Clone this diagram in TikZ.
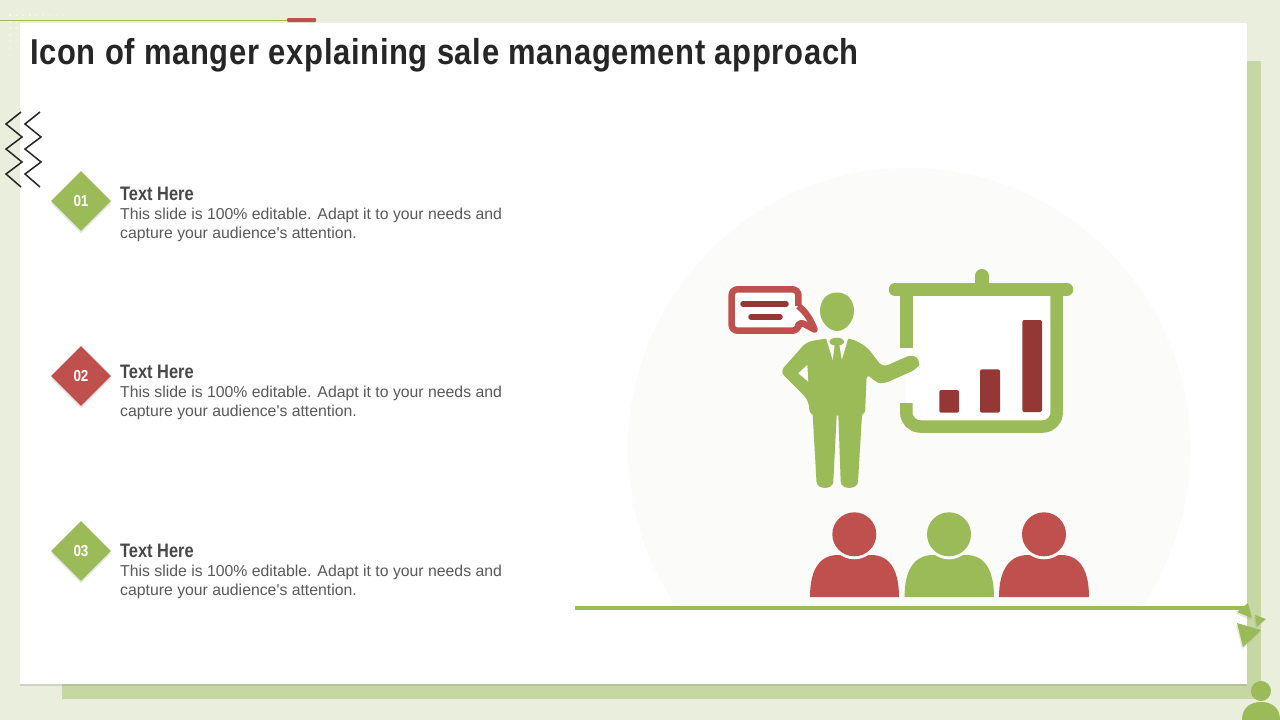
\documentclass[tikz,border=0pt]{standalone}
\usepackage{xcolor}
\usepackage{fontspec}
\usepackage{tikz}
\usetikzlibrary{shapes.geometric,shadows}
\setmainfont{Liberation Sans}
\newfontfamily\narrowfont[FakeStretch=0.84]{Liberation Sans}
\newfontfamily\slidefont[FakeStretch=0.86, LetterSpace=1.85]{Liberation Sans}
\definecolor{mygreen}{HTML}{9BBB59}
\definecolor{myred}{HTML}{C0504D}
\definecolor{mydarkred}{HTML}{953735}
\definecolor{mypage}{HTML}{E9EFDC}
\definecolor{mypanel}{HTML}{C6D7A4}
\definecolor{mydisc}{HTML}{FBFBF9}
\tikzstyle{mydiamond} = [diamond, minimum width=60pt, minimum height=60pt, inner sep=0pt, text=white, font=\narrowfont\fontsize{16}{16}\selectfont\bfseries, drop shadow={shadow xshift=0pt, shadow yshift=-2.5pt, opacity=.2}]
\tikzstyle{myhead} = [draw=none, fill=#1, text width=0pt, circle, minimum size=44pt, inner sep=0pt]
\tikzstyle{myitem} = [anchor=north west, inner sep=0pt, text width=383pt, align=justify, text=black!65, font=\fontsize{15.8}{19.4}\selectfont]
\tikzstyle{mytitle} = [anchor=west, inner sep=0pt, text=black!72, font=\narrowfont\fontsize{19.5}{20}\selectfont\bfseries]
\tikzstyle{mybar} = [fill=mydarkred, rounded corners=2pt]
\tikzstyle{myzigzag} = [draw=black!85, line width=1.5pt]
\begin{document}
\begin{tikzpicture}[x=1pt, y=-1pt]
\useasboundingbox (0,0) rectangle (1280,720);
% page and panels
\fill [mypage] (0,0) rectangle (1280,720);
\fill [mypanel] (62,61) rectangle (1261,699);
\foreach \i in {0,...,10} {
    \fill [white, opacity=.7-.06*\i] (10+6.6*\i,15) circle (1.2);
}
\foreach \i in {1,...,7} {
    \fill [white, opacity=.7-.08*\i] (10,15+6.6*\i) circle (1.2);
    \fill [white, opacity=.6-.08*\i] (16.6,15+6.6*\i) circle (1.2);
}
\fill [white, drop shadow={shadow xshift=0pt, shadow yshift=-2pt, opacity=.25}] (20,23) rectangle (1247,684);
\draw [mygreen, line width=1pt] (0,20.5) -- (287,20.5);
\fill [myred, rounded corners=1pt] (287,18) rectangle (316,22);
\node [anchor=west, inner sep=0pt, text=black!85, font=\slidefont\fontsize{36}{36}\selectfont\bfseries] (title) at (30,55.5) {Icon of manger explaining sale management approach};
% zigzags
\draw [myzigzag] (21,112) -- (6,124) -- (22,137) -- (6,149) -- (22,162) -- (6,174) -- (21,187);
\draw [myzigzag] (40,112) -- (25,124) -- (41,137) -- (25,149) -- (41,162) -- (25,174) -- (40,187);
% left column
\node [mydiamond, fill=mygreen] (num1) at (81,201) {01};
\node [mytitle] (head1) at (120,194) {Text Here};
\node [myitem] (text1) at (120,207.5) {This slide is 100\% editable. Adapt it to your needs and\\capture your audience\textquotesingle s attention.};
\node [mydiamond, fill=myred] (num2) at (81,376) {02};
\node [mytitle] (head2) at (120,372) {Text Here};
\node [myitem] (text2) at (120,385.5) {This slide is 100\% editable. Adapt it to your needs and\\capture your audience\textquotesingle s attention.};
\node [mydiamond, fill=mygreen] (num3) at (81,551) {03};
\node [mytitle] (head3) at (120,551) {Text Here};
\node [myitem] (text3) at (120,564.5) {This slide is 100\% editable. Adapt it to your needs and\\capture your audience\textquotesingle s attention.};
% disc behind the icon
\begin{scope}
\clip (600,150) rectangle (1220,606);
\fill [mydisc] (909,449) circle (281);
\end{scope}
\draw [mygreen, line width=4pt] (575,607.5) -- (1247,607.5);
% corner marks
\fill [mygreen, drop shadow={shadow xshift=-1pt, shadow yshift=-2pt, opacity=.2}] (1237,612) -- (1248,603) -- (1252,618) -- cycle;
\fill [mygreen, drop shadow={shadow xshift=-1pt, shadow yshift=-2pt, opacity=.2}] (1255,615) -- (1266,619) -- (1257,626) -- cycle;
\fill [mygreen, drop shadow={shadow xshift=-1pt, shadow yshift=-2pt, opacity=.2}] (1237,623) -- (1261,630) -- (1243,647) -- cycle;
\fill [mygreen] (1261,691) circle (10);
\fill [mygreen] (1242,720) .. controls (1242,708) and (1250,702) .. (1261,702) .. controls (1272,702) and (1280,708) .. (1280,720) -- cycle;
% board
\fill [white] (906,295) rectangle (1057,426);
\draw [mygreen, line width=14pt, line cap=round] (981.7,276) -- (981.7,289);
\draw [mygreen, line width=12.5pt, line cap=round] (895,289.5) -- (1067,289.5);
\draw [mygreen, line width=12.5pt] (906.3,295) -- (906.3,348);
\draw [mygreen, line width=12.5pt, rounded corners=14pt] (906.3,403) -- (906.3,426.5) -- (1056.7,426.5) -- (1056.7,290);
\fill [mybar] (939.3,390) rectangle (959,412.7);
\fill [mybar] (980,369.3) rectangle (1000,412.7);
\fill [mybar] (1022.3,320) rectangle (1042,412);
% speech bubble
\draw [myred, fill=white, line width=6.5pt, line join=round, rounded corners=6pt] (798.4,306) -- (798.4,289.3) -- (731.6,289.3) -- (731.6,330.7) -- (798.4,330.7) -- (798.4,321) [sharp corners] -- (814.5,329.5) .. controls (811,320) and (806,312) .. (798.4,306);
\draw [mydarkred, line width=5.5pt, line cap=round] (743,304) -- (786,304);
\draw [mydarkred, line width=5.5pt, line cap=round] (751,317) -- (780,317);
% presenter
\fill [mygreen] (837,292.5) .. controls (848,292.5) and (854,301) .. (854,311) .. controls (854,322) and (845,331) .. (837,331) .. controls (829,331) and (820,322) .. (820,311) .. controls (820,301) and (826,292.5) .. (837,292.5) -- cycle;
\fill [mygreen, rounded corners=6pt] (826.7,338.5) -- (806.7,341.7) -- (780,371.7) -- (808.3,400) -- (810,415.7) -- (865,415.7) -- (866.7,373.3) -- (875,382) -- (883.3,384) -- (917,369) -- (921,361.7) -- (912.7,354) -- (882.7,367.3) -- (866.7,346.7) -- (851.7,338.5) -- cycle;
\fill [white] (807.3,365) -- (798.3,373.3) -- (808.3,381.7) -- cycle;
\fill [mydisc] (826,338) -- (848.3,338) -- (841.7,360) -- (832.7,360) -- cycle;
\fill [mygreen] (836.7,341.7) ellipse (7.3 and 4);
\fill [mygreen] (834.7,345) -- (839.3,345) -- (842,361) -- (832.7,361) -- cycle;
\fill [mygreen] (812.7,415) -- (816.5,481.7) .. controls (817,490) and (833,490) .. (833.3,481.7) -- (836.7,415) -- cycle;
\fill [mygreen] (838.3,415) -- (840.7,481.7) .. controls (841,490) and (857.5,490) .. (858,481.7) -- (862,415) -- cycle;
% audience
\fill [myred] (810,597) .. controls (810,572) and (818,555) .. (838,555) -- (871,555) .. controls (891,555) and (899,572) .. (899,597) -- cycle;
\fill [mygreen] (904.5,597) .. controls (904.5,572) and (913,555) .. (933,555) -- (966,555) .. controls (986,555) and (994,572) .. (994,597) -- cycle;
\fill [myred] (999,597) .. controls (999,572) and (1008,555) .. (1028,555) -- (1061,555) .. controls (1081,555) and (1089,572) .. (1089,597) -- cycle;
\fill [mydisc] (854.3,534.3) circle (25);
\fill [mydisc] (949,534.3) circle (25);
\fill [mydisc] (1044,534.3) circle (25);
\node [myhead=myred] (person1) at (854.3,534.3) {};
\node [myhead=mygreen] (person2) at (949,534.3) {};
\node [myhead=myred] (person3) at (1044,534.3) {};
\end{tikzpicture}
\end{document}
